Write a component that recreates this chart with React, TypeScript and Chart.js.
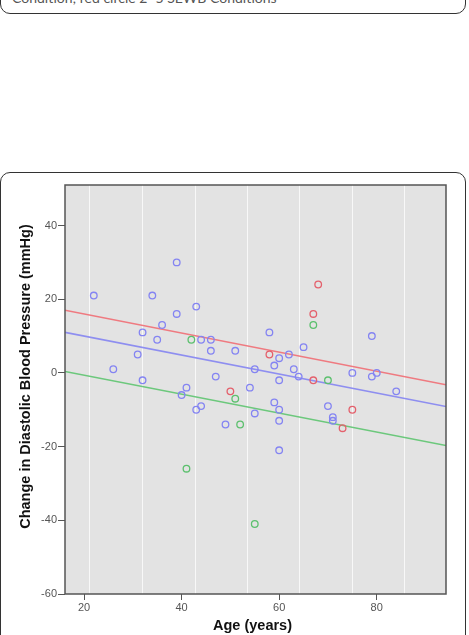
import React, { useEffect, useRef } from "react";
import { Chart, registerables } from "chart.js";

Chart.register(...registerables);

// ---- data ----
const blueAges = [22, 39, 34, 43, 39, 36, 32, 35, 44, 46, 46, 51, 31, 26, 55, 32, 47, 41, 40, 54, 43, 44, 49, 55, 60, 59, 60, 60, 70, 71, 71, 84, 75, 79, 80, 79, 64, 63, 60, 59, 60, 62, 65, 58];
const blueChange = [21, 30, 21, 18, 16, 13, 11, 9, 9, 9, 6, 6, 5, 1, 1, -2, -1, -4, -6, -4, -10, -9, -14, -11, -21, -8, -10, -13, -9, -12, -13, -5, 0, -1, 0, 10, -1, 1, -2, 2, 4, 5, 7, 11];
const redAges = [58, 50, 67, 73, 75, 68, 67];
const redChange = [5, -5, -2, -15, -10, 24, 16];
const greenAges = [42, 51, 52, 41, 70, 67, 55];
const greenChange = [9, -7, -14, -26, -2, 13, -41];

// fit lines (evaluated at the axis ends)
const fitAges = [16.1, 94.2];
const redFit = [17.0, -3.2];
const blueFit = [11.0, -9.1];
const greenFit = [0.4, -19.7];

const xTicks = [20, 40, 60, 80];
const yTicks = [-60, -40, -20, 0, 20, 40];
const xMin = 16.1;
const xMax = 94.2;
const yMin = -60;
const yMax = 51;
const backgroundGridAges = [21.2, 32, 42.9, 53.5, 64.1, 75, 85.6];

const caption = "Condition; red circle 2\u20135 SEWB Conditions";
const xTitle = "Age (years)";
const yTitle = "Change in Diastolic Blood Pressure (mmHg)";

const BLUE = "#8484f2";
const RED = "#e4606c";
const GREEN = "#5cc06e";
const TITLE_FONT = "bold 14.5px 'Liberation Sans', Arial, sans-serif";

const pts = (xs: number[], ys: number[]) => xs.map((x, i) => ({ x, y: ys[i] }));

const plotFrame = {
  id: "plotFrame",
  beforeDraw(chart: any) {
    const { ctx, chartArea: a } = chart;
    ctx.save();
    ctx.fillStyle = "#e3e3e3";
    ctx.fillRect(a.left, a.top, a.right - a.left, a.bottom - a.top);
    ctx.restore();
  },
  afterDraw(chart: any) {
    const { ctx, chartArea: a } = chart;
    ctx.save();
    ctx.strokeStyle = "#555";
    ctx.lineWidth = 1.5;
    ctx.strokeRect(a.left, a.top, a.right - a.left, a.bottom - a.top);
    // axis titles
    ctx.fillStyle = "#111";
    ctx.font = TITLE_FONT;
    ctx.textAlign = "center";
    ctx.textBaseline = "middle";
    ctx.fillText(xTitle, (a.left + a.right) / 2 - 3, a.bottom + 32);
    ctx.translate(26, (a.top + a.bottom) / 2 - 13);
    ctx.rotate(-Math.PI / 2);
    ctx.fillText(yTitle, 0, 0);
    ctx.restore();
  },
};

function ScatterChart() {
  const ref = useRef<HTMLCanvasElement | null>(null);
  useEffect(() => {
    if (!ref.current) return;
    const pointDs = (label: string, data: any[], color: string) => ({
      label,
      data,
      type: "scatter" as const,
      borderColor: color,
      backgroundColor: "rgba(0,0,0,0)",
      pointRadius: 3.3,
      pointBorderWidth: 1.3,
      showLine: false,
      order: 1,
    });
    const lineDs = (label: string, ys: number[], color: string) => ({
      label,
      data: pts(fitAges, ys),
      type: "scatter" as const,
      showLine: true,
      borderColor: color,
      borderWidth: 1.6,
      pointRadius: 0,
      fill: false,
      order: 2,
    });
    const chart = new Chart(ref.current, {
      type: "scatter",
      data: {
        datasets: [
          pointDs("1", pts(blueAges, blueChange), BLUE),
          pointDs("2-5", pts(redAges, redChange), RED),
          pointDs("0", pts(greenAges, greenChange), GREEN),
          lineDs("fit 2-5", redFit, "#ef7a80"),
          lineDs("fit 1", blueFit, "#8e8ef0"),
          lineDs("fit 0", greenFit, "#6cc87c"),
        ] as any,
      },
      options: {
        animation: false,
        responsive: false,
        devicePixelRatio: 1,
        layout: { padding: { left: 0, right: 23, top: 13, bottom: 0 } },
        plugins: { legend: { display: false }, tooltip: { enabled: false } },
        scales: {
          x: {
            type: "linear",
            position: "bottom",
            min: xMin,
            max: xMax,
            afterBuildTicks: (s: any) => {
              s.ticks = xTicks.map((v) => ({ value: v }));
            },
            afterFit: (s: any) => {
              s.height = 41;
            },
            ticks: {
              color: "#555",
              font: { family: "'Liberation Sans', Arial, sans-serif", size: 11 },
              padding: 1,
              autoSkip: false,
              maxRotation: 0,
            },
            grid: { drawOnChartArea: false, drawTicks: true, tickLength: 6, color: "#555", lineWidth: 1 },
            border: { display: false },
            title: { display: false, text: xTitle },
          },
          xBg: {
            type: "linear",
            position: "top",
            min: xMin,
            max: xMax,
            afterBuildTicks: (s: any) => {
              s.ticks = backgroundGridAges.map((v) => ({ value: v }));
            },
            afterFit: (s: any) => {
              s.height = 0;
            },
            ticks: { display: false },
            grid: { drawTicks: false, color: "rgba(255,255,255,0.75)", lineWidth: 1 },
            border: { display: false },
          },
          y: {
            type: "linear",
            position: "left",
            min: yMin,
            max: yMax,
            afterBuildTicks: (s: any) => {
              s.ticks = yTicks.map((v) => ({ value: v }));
            },
            afterFit: (s: any) => {
              s.width = 65;
            },
            ticks: {
              color: "#555",
              font: { family: "'Liberation Sans', Arial, sans-serif", size: 11 },
              padding: 1,
            },
            grid: { drawOnChartArea: false, drawTicks: true, tickLength: 7, color: "#555", lineWidth: 1 },
            border: { display: false },
            title: { display: false, text: yTitle },
          },
        },
      },
      plugins: [plotFrame],
    });
    return () => chart.destroy();
  }, []);
  return <canvas ref={ref} width={469} height={463} style={{ display: "block", width: 469, height: 463 }} />;
}

export default function App() {
  return (
    <div
      style={{
        position: "absolute",
        left: 0,
        top: 0,
        width: 469,
        height: 635,
        overflow: "hidden",
        background: "#fff",
      }}
    >
      <div
        style={{
          position: "absolute",
          left: 0,
          top: -40,
          width: 466,
          height: 54,
          boxSizing: "border-box",
          border: "1.5px solid #333",
          borderRadius: 10,
        }}
      />
      <div
        style={{
          position: "absolute",
          left: 12,
          top: -9.5,
          fontFamily: "Lato, 'Open Sans', sans-serif",
          fontSize: 14,
          lineHeight: "14px",
          color: "#555",
          whiteSpace: "nowrap",
        }}
      >
        {caption}
      </div>
      <div
        style={{
          position: "absolute",
          left: 0,
          top: 172,
          width: 466,
          height: 500,
          boxSizing: "border-box",
          border: "1.5px solid #333",
          borderRadius: 10,
        }}
      />
      <div style={{ position: "absolute", left: 0, top: 172 }}>
        <ScatterChart />
      </div>
    </div>
  );
}
